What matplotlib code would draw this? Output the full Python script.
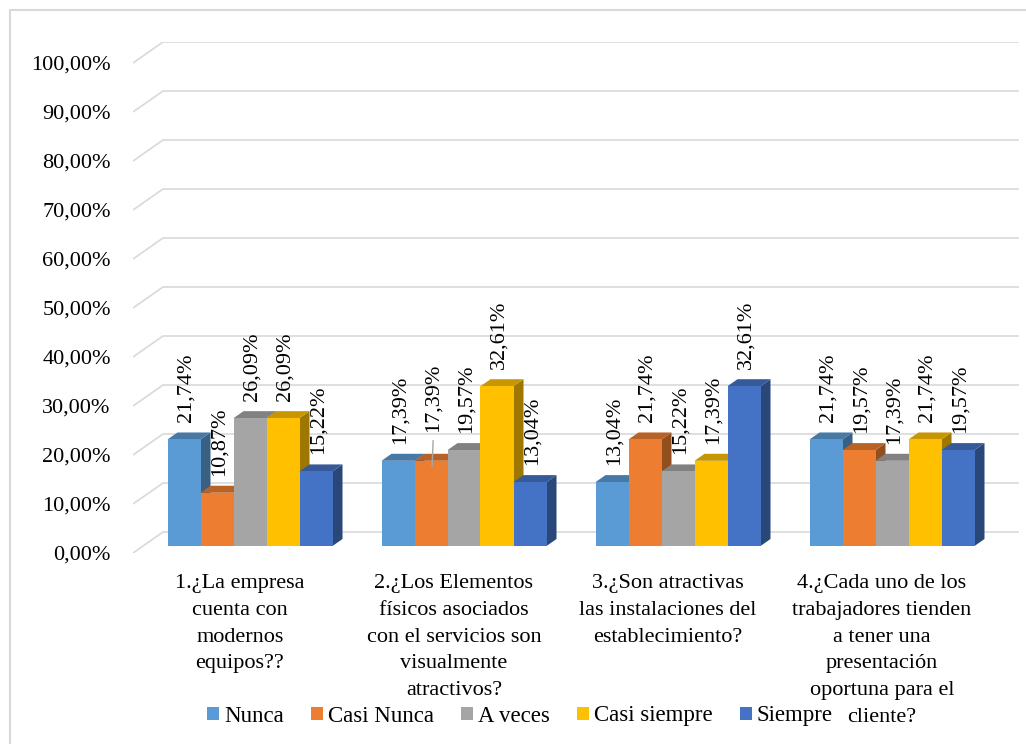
import matplotlib
matplotlib.use("Agg")
import matplotlib.pyplot as plt
from matplotlib.patches import Polygon, Patch, Rectangle

categories = [
    "1.¿La empresa\ncuenta con\nmodernos\nequipos??",
    "2.¿Los Elementos\nfísicos asociados\ncon el servicios son\nvisualmente\natractivos?",
    "3.¿Son atractivas\nlas instalaciones del\nestablecimiento?",
    "4.¿Cada uno de los\ntrabajadores tienden\na tener una\npresentación\noportuna para el\ncliente?",
]
series = ["Nunca", "Casi Nunca", "A veces", "Casi siempre", "Siempre"]
nunca = [21.74, 17.39, 13.04, 21.74]
casi_nunca = [10.87, 17.39, 21.74, 19.57]
a_veces = [26.09, 19.57, 15.22, 17.39]
casi_siempre = [26.09, 32.61, 17.39, 21.74]
siempre = [15.22, 13.04, 32.61, 19.57]
values = [nunca, casi_nunca, a_veces, casi_siempre, siempre]
yticks = list(range(0, 101, 10))

colors = ["#5B9BD5", "#ED7D31", "#A5A5A5", "#FFC000", "#4472C4"]

plt.rcParams["font.family"] = ["Liberation Serif", "DejaVu Serif"]
plt.rcParams["font.size"] = 16

fig = plt.figure(figsize=(10.26, 7.44), dpi=100)
# chart frame (only left/top visible in the reference)
fig.patches.append(Rectangle((10 / 1026, -0.05), 1.1, 1 - 10 / 744 + 0.05,
                             transform=fig.transFigure, fill=False,
                             edgecolor="#D9D9D9", linewidth=1.5))

ax = fig.add_axes([133 / 1026, (744 - 553) / 744, 886 / 1026, 511 / 744])
DX = 30 / 214.0      # full depth offset in category units
DY = 21 / 4.9        # full depth offset in percent units
ax.set_xlim(0, 4 + DX)
ax.set_ylim(0, 100 + DY)
for s in ax.spines.values():
    s.set_visible(False)


def proj(x, v, d):
    return (x + d * DX, v + d * DY)


grid_c = "#D9D9D9"
for v in yticks:
    xs = [0, DX, 4 + DX]
    ys = [v, v + DY, v + DY]
    ax.plot(xs, ys, color=grid_c, lw=1.2, zorder=1, solid_capstyle="butt")

ax.set_yticks(yticks)
ax.set_yticklabels([f"{v:.2f}%".replace(".", ",") for v in yticks])
ax.tick_params(axis="y", length=0, pad=16)
ax.set_xticks([i + 0.5 for i in range(4)])
ax.set_xticklabels(categories, linespacing=1.56, fontsize=16)
ax.tick_params(axis="x", length=0, pad=15)


def darker(c, f):
    r, g, b = matplotlib.colors.to_rgb(c)
    return (r * f, g * f, b * f)


gap = 49 / 214.0
bw = (1 - gap) / 5
d0, d1 = 1 / 3, 2 / 3
z = 2
for i in range(4):
    for j in range(5):
        v = values[j][i]
        x0 = i + gap / 2 + j * bw
        x1 = x0 + bw
        c = colors[j]
        front = [proj(x0, 0, d0), proj(x1, 0, d0), proj(x1, v, d0), proj(x0, v, d0)]
        top = [proj(x0, v, d0), proj(x1, v, d0), proj(x1, v, d1), proj(x0, v, d1)]
        side = [proj(x1, 0, d0), proj(x1, 0, d1), proj(x1, v, d1), proj(x1, v, d0)]
        ax.add_patch(Polygon(side, closed=True, facecolor=darker(c, 0.62), edgecolor="none", zorder=z))
        ax.add_patch(Polygon(top, closed=True, facecolor=darker(c, 0.78), edgecolor="none", zorder=z))
        ax.add_patch(Polygon(front, closed=True, facecolor=c, edgecolor="none", zorder=z + 0.5))
        z += 1
        lx, ly = proj(x0 + bw / 2, v, d0)
        off = 3.5
        if i == 1 and j == 1:
            off = 5.8
            ax.plot([lx + 0.005, lx + 0.01], [v + 0.3, v + off - 0.3], color="#A6A6A6", lw=1, zorder=50)
        ax.text(lx + 0.008, ly + off, f"{v:.2f}%".replace(".", ","), rotation=90,
                ha="center", va="bottom", zorder=60)

handles = [Patch(facecolor=c, edgecolor="none") for c in colors]
fig.legend(handles, series, loc="center", bbox_to_anchor=(520 / 1026, 1 - 716 / 744),
           ncol=5, frameon=False, fontsize=16.5, handlelength=0.52, handleheight=0.52,
           handletextpad=0.22, columnspacing=1.18, borderpad=0)

fig.savefig("out.png", dpi=100)
